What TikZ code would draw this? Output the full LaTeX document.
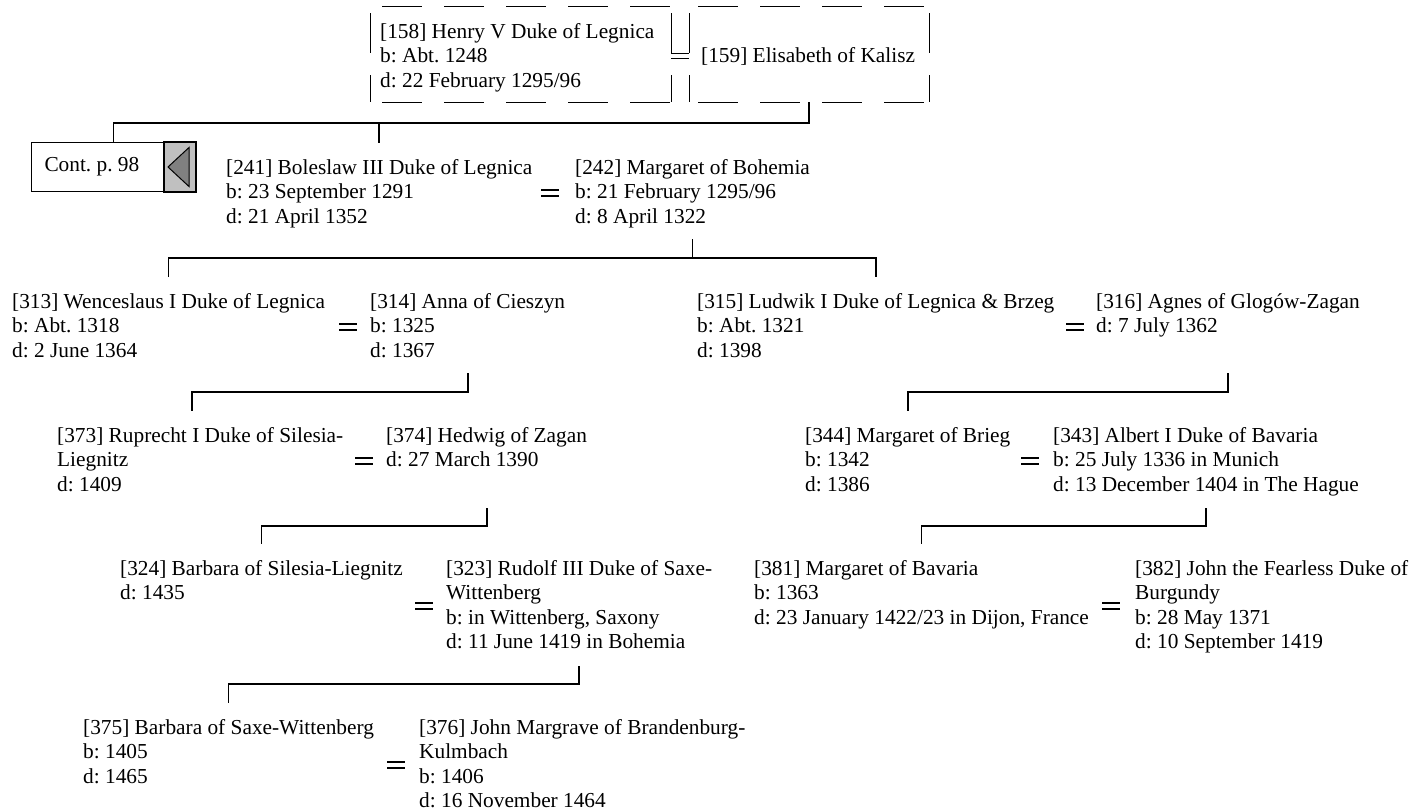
\documentclass[tikz,border=0pt]{standalone}
\usepackage{fontspec}
\setmainfont{Liberation Serif}
\usetikzlibrary{calc}
\frenchspacing
\definecolor{contgray}{HTML}{C0C0C0}
\definecolor{trigray}{HTML}{808080}
\newcommand\pf{\fontsize{21.33}{24.5}\selectfont\frenchspacing}
\newcommand\fr{\rule{0pt}{31pt}}
\newcommand\marr[3]{%
  \draw[eqline] (#1,#3-3) -- (#2,#3-3);
  \draw[eqline] (#1,#3+3) -- (#2,#3+3);}
\begin{document}
\begin{tikzpicture}[x=1pt,y=-1pt,
  person/.style={anchor=north west, inner sep=0pt, align=left, font=\pf},
  conn/.style={line width=1.8pt},
  eqline/.style={line width=2pt},
  dbox/.style={line width=1pt, dash pattern=on 40pt off 22pt},
  topbox/.style={anchor=north west, inner ysep=10pt, align=left, font=\pf}]
\useasboundingbox (0,0) rectangle (1414,811);

% level coordinates
\coordinate (Lt1) at (0,123);
\coordinate (L1a) at (0,239);
\coordinate (L1b) at (0,258);
\coordinate (L2a) at (0,373);
\coordinate (L2b) at (0,392);
\coordinate (L3a) at (0,508);
\coordinate (L3b) at (0,526);
\coordinate (L4a) at (0,666);
\coordinate (L4b) at (0,684);
\coordinate (E1) at (0,53.3);
\coordinate (E2) at (0,58.3);

% top dashed boxes
\node[topbox, inner xsep=10pt] (p158) at (370,6)
  {\makebox[281pt][l]{\rule{0pt}{22pt}[158] Henry V Duke of Legnica}\\b: Abt. 1248\\d: 22 February 1295/96\rule[-5pt]{0pt}{5pt}};
\node[topbox, inner xsep=12pt] (p159) at (689,6)
  {\makebox[216pt][l]{\rule[-29.5pt]{0pt}{76pt}[159] Elisabeth of Kalisz}};
\draw[dbox, dash phase=50pt] (p158.north west) -- (p158.north east);
\draw[dbox, dash phase=50pt] (p158.south west) -- (p158.south east);
\draw[dbox, dash phase=55pt] (p158.north west) -- (p158.south west);
\draw[dbox, dash phase=55pt] (p158.north east) -- (p158.south east);
\draw[dbox, dash phase=53pt] (p159.north west) -- (p159.north east);
\draw[dbox, dash phase=53pt] (p159.south west) -- (p159.south east);
\draw[dbox, dash phase=55pt] (p159.north west) -- (p159.south west);
\draw[dbox, dash phase=55pt] (p159.north east) -- (p159.south east);
\draw[line width=1pt] (p158.east |- E1) -- (p159.west |- E1);
\draw[line width=1pt] (p158.east |- E2) -- (p159.west |- E2);

% continuation box
\node[draw, line width=1pt, fill=white, anchor=north west, minimum height=49pt,
  inner xsep=13pt, inner ysep=0pt, align=left, font=\pf] (cont) at (31,142) {\makebox[138pt][l]{Cont. p. 98}};
\filldraw[fill=contgray, line width=1.6pt] ($(cont.north east)+(-32,0)$) rectangle (cont.south east);
\filldraw[fill=trigray, line width=1pt] ($(cont.east)+(-28,0)$) -- ($(cont.east)+(-7,-19.5)$) -- ($(cont.east)+(-7,19.5)$) -- cycle;

% row 1
\node[person] (p241) at (226,143) {\fr[241] Boleslaw III Duke of Legnica\\b: 23 September 1291\\d: 21 April 1352};
\node[person] (p242) at (575,143) {\fr[242] Margaret of Bohemia\\b: 21 February 1295/96\\d: 8 April 1322};
\marr{541}{559}{192.5}

% row 2
\node[person] (p313) at (12,277) {\fr[313] Wenceslaus I Duke of Legnica\\b: Abt. 1318\\d: 2 June 1364};
\node[person] (p314) at (370,277) {\fr[314] Anna of Cieszyn\\b: 1325\\d: 1367};
\marr{339}{357}{326.5}
\node[person] (p315) at (697,277) {\fr[315] Ludwik I Duke of Legnica \& Brzeg\\b: Abt. 1321\\d: 1398};
\node[person] (p316) at (1096,277) {\fr[316] Agnes of Glogów-Zagan\\d: 7 July 1362};
\marr{1066}{1084}{326.5}

% row 3
\node[person] (p373) at (57,411) {\fr[373] Ruprecht I Duke of Silesia-\\Liegnitz\\d: 1409};
\node[person] (p374) at (386,411) {\fr[374] Hedwig of Zagan\\d: 27 March 1390};
\marr{355}{373}{460.5}
\node[person] (p344) at (805,411) {\fr[344] Margaret of Brieg\\b: 1342\\d: 1386};
\node[person] (p343) at (1053,411) {\fr[343] Albert I Duke of Bavaria\\b: 25 July 1336 in Munich\\d: 13 December 1404 in The Hague};
\marr{1021}{1039}{460.5}

% row 4
\node[person] (p324) at (120,544) {\fr[324] Barbara of Silesia-Liegnitz\\d: 1435};
\node[person] (p323) at (446,544) {\fr[323] Rudolf III Duke of Saxe-\\Wittenberg\\b: in Wittenberg, Saxony\\d: 11 June 1419 in Bohemia};
\marr{415}{433}{605.75}
\node[person] (p381) at (754,544) {\fr[381] Margaret of Bavaria\\b: 1363\\d: 23 January 1422/23 in Dijon, France};
\node[person] (p382) at (1135,544) {\fr[382] John the Fearless Duke of\\Burgundy\\b: 28 May 1371\\d: 10 September 1419};
\marr{1102}{1120}{605.75}

% row 5
\node[person] (p375) at (83,703) {\fr[375] Barbara of Saxe-Wittenberg\\b: 1405\\d: 1465};
\node[person] (p376) at (419,703) {\fr[376] John Margrave of Brandenburg-\\Kulmbach\\b: 1406\\d: 16 November 1464};
\marr{387}{405}{764.75}

% connectors
\coordinate (c373) at ($(p373.north)+(-8,0)$);
\draw[conn] (p159.south) -- (p159.south |- Lt1) -- (cont.north |- Lt1) -- (cont.north);
\draw[conn] (p241.north |- Lt1) -- (p241.north);

\draw[conn] (p242.south |- L1a) -- (p242.south |- L1b);
\draw[conn] (p313.north) -- (p313.north |- L1b) -- (p315.north |- L1b) -- (p315.north);

\draw[conn] (p314.south |- L2a) -- (p314.south |- L2b) -- (c373 |- L2b) -- (c373);
\draw[conn] (p316.south |- L2a) -- (p316.south |- L2b) -- (p344.north |- L2b) -- (p344.north);

\draw[conn] (p374.south |- L3a) -- (p374.south |- L3b) -- (p324.north |- L3b) -- (p324.north);
\draw[conn] (p343.south |- L3a) -- (p343.south |- L3b) -- (p381.north |- L3b) -- (p381.north);

\draw[conn] (p323.south |- L4a) -- (p323.south |- L4b) -- (p375.north |- L4b) -- (p375.north);
\end{tikzpicture}
\end{document}
